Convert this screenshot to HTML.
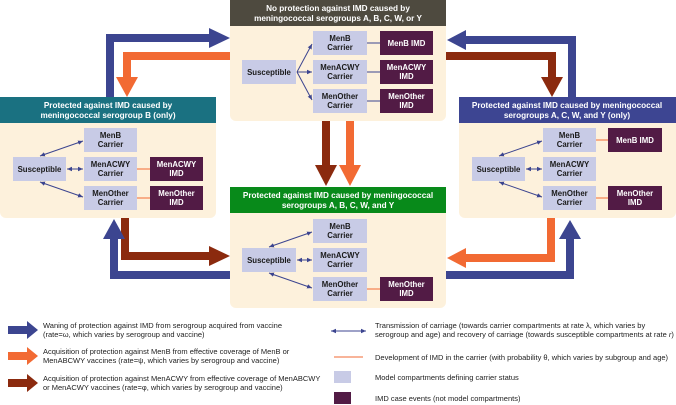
<!DOCTYPE html>
<html><head><meta charset="utf-8"><style>
html,body{margin:0;padding:0;background:#fff;}
svg{display:block;font-family:"Liberation Sans","DejaVu Sans",sans-serif;}
.h{font-size:8.2px;font-weight:bold;fill:#fff;text-anchor:middle;}
.b{font-size:7.8px;font-weight:bold;fill:#1a1a1a;text-anchor:middle;}
.i{font-size:7.8px;font-weight:bold;fill:#fff;text-anchor:middle;}
.l{font-size:7.5px;fill:#222;}
</style></head><body>
<svg width="676" height="405" viewBox="0 0 676 405">
<defs>
<marker id="a" markerWidth="6" markerHeight="6" refX="5" refY="3" orient="auto-start-reverse" markerUnits="userSpaceOnUse"><path d="M0,0.8 L5,3 L0,5.2z" fill="#3c4590"/></marker>
</defs>

<g fill="none" stroke-width="8">
<polyline points="110,97 110,38 212,38" stroke="#3c4590"/>
<polyline points="230,56 127,56 127,80" stroke="#f26a33"/>
<polyline points="572,97 572,40 464,40" stroke="#3c4590"/>
<polyline points="446,56 552,56 552,80" stroke="#8b2a0e"/>
<polyline points="326,121 326,168" stroke="#8b2a0e"/>
<polyline points="350,121 350,168" stroke="#f26a33"/>
<polyline points="125,218 125,256 212,256" stroke="#8b2a0e"/>
<polyline points="230,275 114,275 114,236" stroke="#3c4590"/>
<polyline points="551,218 551,258 464,258" stroke="#f26a33"/>
<polyline points="446,275 570,275 570,237" stroke="#3c4590"/>
</g>
<polygon points="209,28 230,38 209,48" fill="#3c4590"/>
<polygon points="116,77 138,77 127,97" fill="#f26a33"/>
<polygon points="466,30 447,40 466,50" fill="#3c4590"/>
<polygon points="541,77 563,77 552,97" fill="#8b2a0e"/>
<polygon points="315,165 337,165 326,186" fill="#8b2a0e"/>
<polygon points="339,165 361,165 350,186" fill="#f26a33"/>
<polygon points="209,246 230,256 209,266" fill="#8b2a0e"/>
<polygon points="103,239 125,239 114,219" fill="#3c4590"/>
<polygon points="466,248 447,258 466,268" fill="#f26a33"/>
<polygon points="559,239 581,239 570,220" fill="#3c4590"/>

<g>
<path d="M230,26 H446 V115 a6,6 0 0 1 -6,6 H236 a6,6 0 0 1 -6,-6z" fill="#fdf1dc"/>
<rect x="230" y="0" width="216" height="26" fill="#4e4a3f"/>
<text class="h" x="338" y="11">No protection against IMD caused by</text>
<text class="h" x="338" y="21">meningococcal serogroups A, B, C, W, or Y</text>

<path d="M0,123 H216 V212 a6,6 0 0 1 -6,6 H6 a6,6 0 0 1 -6,-6z" fill="#fdf1dc"/>
<rect x="0" y="97" width="216" height="26" fill="#1a7181"/>
<text class="h" x="108" y="108">Protected against IMD caused by</text>
<text class="h" x="108" y="118">meningococcal serogroup B (only)</text>

<path d="M459,123 H676 V212 a6,6 0 0 1 -6,6 H465 a6,6 0 0 1 -6,-6z" fill="#fdf1dc"/>
<rect x="459" y="97" width="217" height="26" fill="#3d4592"/>
<text class="h" x="567" y="108">Protected against IMD caused by meningococcal</text>
<text class="h" x="567" y="118">serogroups A, C, W, and Y (only)</text>

<path d="M230,213 H446 V302 a6,6 0 0 1 -6,6 H236 a6,6 0 0 1 -6,-6z" fill="#fdf1dc"/>
<rect x="230" y="187" width="216" height="26" fill="#088a1a"/>
<text class="h" x="338" y="198">Protected against IMD caused by meningococcal</text>
<text class="h" x="338" y="208">serogroups A, B, C, W, and Y</text>
</g>

<g stroke="#3c4590" stroke-width="1" fill="none">
<line x1="297" y1="72" x2="312" y2="44" marker-end="url(#a)"/>
<line x1="297" y1="72" x2="312" y2="72" marker-end="url(#a)"/>
<line x1="297" y1="72" x2="312" y2="100" marker-end="url(#a)"/>
<line x1="367" y1="43" x2="380" y2="43"/>
<line x1="367" y1="72" x2="380" y2="72"/>
<line x1="367" y1="101" x2="380" y2="101"/>
<line x1="40" y1="156" x2="83" y2="141" marker-start="url(#a)" marker-end="url(#a)"/>
<line x1="67" y1="169" x2="83" y2="169" marker-start="url(#a)" marker-end="url(#a)"/>
<line x1="40" y1="182" x2="83" y2="197" marker-start="url(#a)" marker-end="url(#a)"/>
<line x1="499" y1="156" x2="542" y2="141" marker-start="url(#a)" marker-end="url(#a)"/>
<line x1="526" y1="169" x2="542" y2="169" marker-start="url(#a)" marker-end="url(#a)"/>
<line x1="499" y1="182" x2="542" y2="197" marker-start="url(#a)" marker-end="url(#a)"/>
<line x1="269" y1="247" x2="312" y2="232" marker-start="url(#a)" marker-end="url(#a)"/>
<line x1="297" y1="260" x2="312" y2="260" marker-start="url(#a)" marker-end="url(#a)"/>
<line x1="269" y1="273" x2="312" y2="288" marker-start="url(#a)" marker-end="url(#a)"/>
</g>
<g stroke="#f26a33" stroke-width="1">
<line x1="137" y1="169" x2="150" y2="169"/>
<line x1="137" y1="198" x2="150" y2="198"/>
<line x1="596" y1="140" x2="608" y2="140"/>
<line x1="596" y1="198" x2="608" y2="198"/>
<line x1="367" y1="289" x2="380" y2="289"/>
</g>

<g fill="#c8cbe6">
<rect x="242" y="60" width="54" height="24"/>
<rect x="313" y="31" width="54" height="24"/><rect x="313" y="60" width="54" height="24"/><rect x="313" y="89" width="54" height="24"/>
<rect x="13" y="157" width="53" height="24"/>
<rect x="84" y="128" width="53" height="24"/><rect x="84" y="157" width="53" height="24"/><rect x="84" y="186" width="53" height="24"/>
<rect x="472" y="157" width="53" height="24"/>
<rect x="543" y="128" width="53" height="24"/><rect x="543" y="157" width="53" height="24"/><rect x="543" y="186" width="53" height="24"/>
<rect x="242" y="248" width="54" height="24"/>
<rect x="313" y="219" width="54" height="24"/><rect x="313" y="248" width="54" height="24"/><rect x="313" y="277" width="54" height="24"/>
</g>
<g fill="#521b45">
<rect x="380" y="31" width="53" height="24"/><rect x="380" y="60" width="53" height="24"/><rect x="380" y="89" width="53" height="24"/>
<rect x="150" y="157" width="53" height="24"/><rect x="150" y="186" width="53" height="24"/>
<rect x="608" y="128" width="54" height="24"/><rect x="608" y="186" width="54" height="24"/>
<rect x="380" y="277" width="53" height="24"/>
</g>

<text class="b" x="269" y="75">Susceptible</text>
<text class="b" x="340" y="41">MenB</text><text class="b" x="340" y="50">Carrier</text>
<text class="b" x="340" y="70">MenACWY</text><text class="b" x="340" y="79">Carrier</text>
<text class="b" x="340" y="99">MenOther</text><text class="b" x="340" y="108">Carrier</text>

<text class="b" x="39.5" y="172">Susceptible</text>
<text class="b" x="110.5" y="138">MenB</text><text class="b" x="110.5" y="147">Carrier</text>
<text class="b" x="110.5" y="167">MenACWY</text><text class="b" x="110.5" y="176">Carrier</text>
<text class="b" x="110.5" y="196">MenOther</text><text class="b" x="110.5" y="205">Carrier</text>

<text class="b" x="498.5" y="172">Susceptible</text>
<text class="b" x="569.5" y="138">MenB</text><text class="b" x="569.5" y="147">Carrier</text>
<text class="b" x="569.5" y="167">MenACWY</text><text class="b" x="569.5" y="176">Carrier</text>
<text class="b" x="569.5" y="196">MenOther</text><text class="b" x="569.5" y="205">Carrier</text>

<text class="b" x="269" y="263">Susceptible</text>
<text class="b" x="340" y="229">MenB</text><text class="b" x="340" y="238">Carrier</text>
<text class="b" x="340" y="258">MenACWY</text><text class="b" x="340" y="267">Carrier</text>
<text class="b" x="340" y="287">MenOther</text><text class="b" x="340" y="296">Carrier</text>

<text class="i" x="406.5" y="46">MenB IMD</text>
<text class="i" x="406.5" y="70">MenACWY</text><text class="i" x="406.5" y="79">IMD</text>
<text class="i" x="406.5" y="99">MenOther</text><text class="i" x="406.5" y="108">IMD</text>
<text class="i" x="176.5" y="167">MenACWY</text><text class="i" x="176.5" y="176">IMD</text>
<text class="i" x="176.5" y="196">MenOther</text><text class="i" x="176.5" y="205">IMD</text>
<text class="i" x="635" y="143">MenB IMD</text>
<text class="i" x="635" y="196">MenOther</text><text class="i" x="635" y="205">IMD</text>
<text class="i" x="406.5" y="287">MenOther</text><text class="i" x="406.5" y="296">IMD</text>

<rect x="8" y="326" width="20" height="8" fill="#3c4590"/><polygon points="27,321 38,330 27,339" fill="#3c4590"/>
<rect x="8" y="352" width="20" height="8" fill="#f26a33"/><polygon points="27,347 38,356 27,365" fill="#f26a33"/>
<rect x="8" y="379" width="20" height="8" fill="#8b2a0e"/><polygon points="27,374 38,383 27,392" fill="#8b2a0e"/>
<text class="l" x="43" y="328">Waning of protection against IMD from serogroup acquired from vaccine</text>
<text class="l" x="43" y="337">(rate=ω, which varies by serogroup and vaccine)</text>
<text class="l" x="43" y="354">Acquisition of protection against MenB from effective coverage of MenB or</text>
<text class="l" x="43" y="363">MenABCWY vaccines (rate=ψ, which varies by serogroup and vaccine)</text>
<text class="l" x="43" y="381">Acquisition of protection against MenACWY from effective coverage of MenABCWY</text>
<text class="l" x="43" y="390">or MenACWY vaccines (rate=φ, which varies by serogroup and vaccine)</text>

<line x1="331" y1="331" x2="366" y2="331" stroke="#3c4590" stroke-width="1" marker-start="url(#a)" marker-end="url(#a)"/>
<text class="l" x="375" y="328">Transmission of carriage (towards carrier compartments at rate λ, which varies by</text>
<text class="l" x="375" y="337">serogroup and age) and recovery of carriage (towards susceptible compartments at rate <tspan font-style="italic">r</tspan>)</text>
<line x1="334" y1="357" x2="363" y2="357" stroke="#f26a33" stroke-width="1"/>
<text class="l" x="375" y="360">Development of IMD in the carrier (with probability θ, which varies by subgroup and age)</text>
<rect x="334" y="371" width="17" height="12" fill="#c8cbe6"/>
<text class="l" x="375" y="380">Model compartments defining carrier status</text>
<rect x="334" y="392" width="17" height="12" fill="#521b45"/>
<text class="l" x="375" y="401">IMD case events (not model compartments)</text>
</svg>
</body></html>
